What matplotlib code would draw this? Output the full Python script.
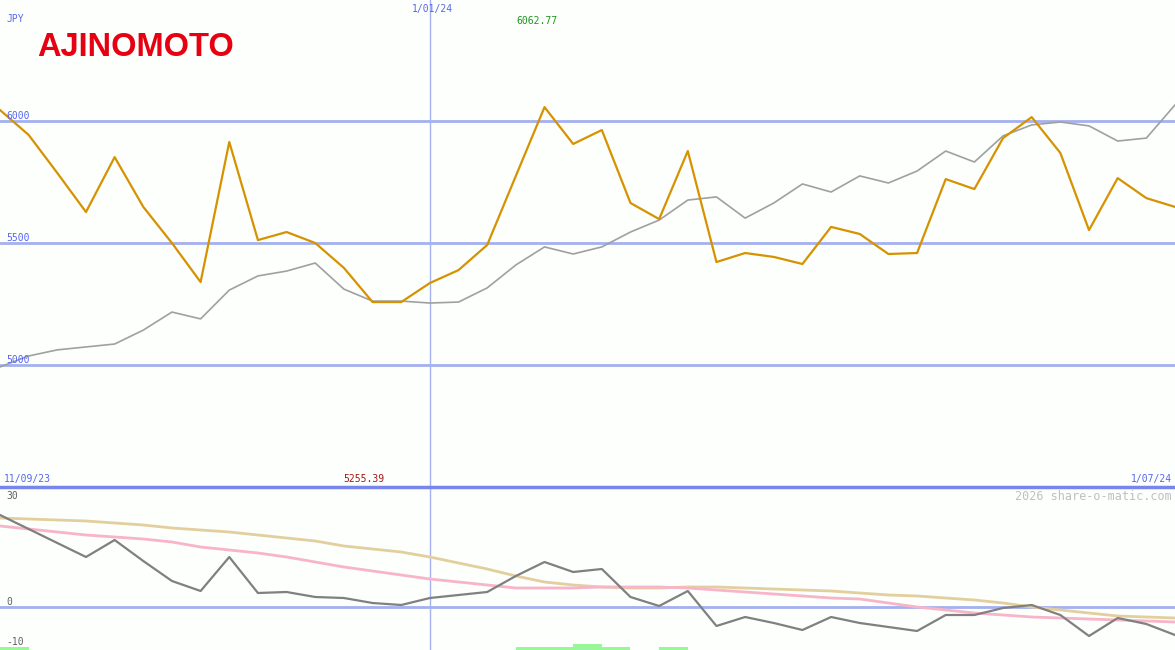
import matplotlib
matplotlib.use("Agg")
from matplotlib import pyplot as plt

# weekly closes, 11/09/23 .. 1/07/24 (index based x axis)
price = [6045, 5943, 5787, 5627, 5852, 5648, 5500, 5340, 5914, 5512,
         5545, 5500, 5398, 5258, 5258, 5336, 5389, 5492, 5775, 6057,
         5906, 5963, 5664, 5598, 5877, 5422, 5459, 5443, 5414, 5566,
         5537, 5455, 5459, 5762, 5721, 5930, 6016, 5869, 5553, 5766,
         5684, 5648]
avg = [4992, 5037, 5062, 5074, 5086, 5143, 5217, 5189, 5307, 5365,
       5385, 5418, 5311, 5262, 5262, 5254, 5258, 5316, 5410, 5484,
       5455, 5484, 5545, 5594, 5676, 5689, 5602, 5664, 5742, 5709,
       5775, 5746, 5795, 5877, 5832, 5939, 5984, 5996, 5980, 5918,
       5930, 6066]

osc = [23, 19.5, 16, 12.5, 16.75, 11.5, 6.5, 4, 12.5, 3.5,
       3.75, 2.5, 2.25, 1, 0.5, 2.25, 3, 3.75, 7.75, 11.25,
       8.75, 9.5, 2.5, 0.25, 4, -4.75, -2.5, -4, -5.75, -2.5,
       -4, -5, -6, -2, -2, -0.25, 0.5, -2, -7.25, -2.75,
       -4.25, -7]
slow = [22.25, 22, 21.75, 21.5, 21, 20.5, 19.75, 19.25, 18.75, 18,
        17.25, 16.5, 15.25, 14.5, 13.75, 12.5, 11, 9.5, 7.75, 6.25,
        5.5, 5, 4.75, 4.75, 5, 5, 4.75, 4.5, 4.25, 4,
        3.5, 3, 2.75, 2.25, 1.75, 1, 0, -0.75, -1.5, -2.25,
        -2.5, -2.75]
signal = [20.25, 19.5, 18.75, 18, 17.5, 17, 16.25, 15, 14.25, 13.5,
          12.5, 11.25, 10, 9, 8, 7, 6.25, 5.5, 4.75, 4.75,
          4.75, 5, 5, 5, 4.75, 4.25, 3.75, 3.25, 2.75, 2.25,
          2, 1, 0, -0.75, -1.5, -2, -2.5, -2.75, -3, -3.25,
          -3.5, -3.75]
bar_idx = [0, 18, 19, 20, 21, 23]
bar_val = [0.75, 0.75, 0.75, 1.5, 0.75, 0.75]

price_levels = [5000, 5500, 6000]
jan_idx = 15

W, H = 1175, 650
bg = "#fcfffc"
grid_c = "#a4b0f0"
lab_c = "#5866f0"

fig = plt.figure(figsize=(W / 100, H / 100), dpi=100, facecolor=bg)

ax = fig.add_axes([0, 163 / H, 1, 487 / H], facecolor=bg)
ax2 = fig.add_axes([0, 0, 1, 163 / H], facecolor=bg)

x = list(range(len(price)))

for a in (ax, ax2):
    a.set_xlim(0, len(price) - 1)
    a.axis("off")
    a.axvline(jan_idx, color=grid_c, lw=1, zorder=1)

ax.set_ylim(4500, 6496)
for lv in price_levels:
    ax.axhline(lv, color=grid_c, lw=2, zorder=1)
ax.plot(x, avg, color="#a0a0a0", lw=1.2, zorder=3)
ax.plot(x, price, color="#d69200", lw=1.6, zorder=4)

ax2.set_ylim(-10.75, 30)
ax2.axhline(0, color=grid_c, lw=2, zorder=1)
ax2.bar(bar_idx, bar_val, bottom=-10.75, width=1, align="edge",
        color="#98f898", zorder=2)
ax2.plot(x, slow, color="#e3cf9e", lw=2, zorder=3)
ax2.plot(x, signal, color="#f8b4c8", lw=2, zorder=3)
ax2.plot(x, osc, color="#808080", lw=1.6, zorder=4)

# separator between panels
fig.add_artist(plt.Line2D([0, 1], [1 - 487 / H] * 2, color="#7886ec", lw=2.5))


def label(px, py, s, color=lab_c, ha="left", size=7):
    fig.text(px / W, 1 - py / H, s, color=color, ha=ha, va="center",
             family="DejaVu Sans Mono", fontsize=size)


label(6, 19, "JPY")
for lv in price_levels:
    label(6, 121 - (lv - 6000) * 0.244 - 5, str(lv))
label(432, 9, "1/01/24", ha="center")
label(537, 21, "6062.77", color="#1e961e", ha="center")
label(4, 479, "11/09/23")
label(364, 479, "5255.39", color="#a01818", ha="center")
label(1172, 479, "1/07/24", ha="right")
label(6, 496, "30", color="#606060")
label(6, 602, "0", color="#606060")
label(6, 642, "-10", color="#606060")
label(1172, 496, "2026 share-o-matic.com", color="#c0c0c0", ha="right", size=8.5)

fig.text(37 / W, 1 - 48 / H, "AJINOMOTO", color="#e60012", ha="left",
         va="center", family="Liberation Sans", fontsize=23.5, weight="bold")

fig.savefig("out.png", dpi=100, facecolor=bg)
